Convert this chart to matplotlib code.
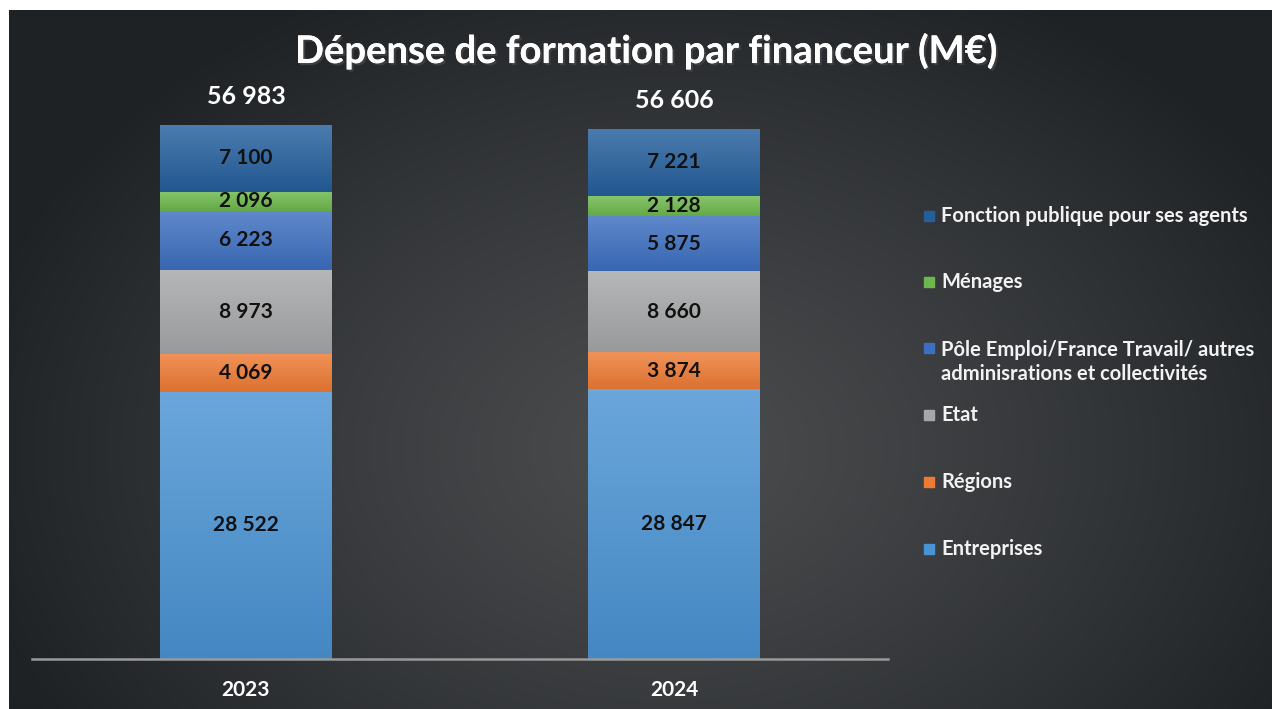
import numpy as np
import matplotlib.pyplot as plt
import matplotlib.patheffects as pe
from matplotlib.colors import to_rgb
from matplotlib.patches import Rectangle

plt.rcParams['font.family'] = ['Lato', 'DejaVu Sans']

# ---- Données (M€) ----
annees = ['2023', '2024']
financeurs = ['Entreprises', 'Régions', 'Etat',
              'Pôle Emploi/France Travail/ autres\nadminisrations et collectivités',
              'Ménages', 'Fonction publique pour ses agents']
entreprises = [28522, 28847]
regions = [4069, 3874]
etat = [8973, 8660]
pole_emploi = [6223, 5875]
menages = [2096, 2128]
fonction_publique = [7100, 7221]
totaux = [56983, 56606]

series = [entreprises, regions, etat, pole_emploi, menages, fonction_publique]
couleurs = ['#4a93d3', '#ee7b34', '#a6a7a8', '#3d6fc0', '#6cb84c', '#245f9c']


def fmt(v):
    return f"{v:,}".replace(",", " ")


def mix(c, other, t):
    c = np.array(to_rgb(c))
    return tuple(c * (1 - t) + np.array(other) * t)


W, H = 1272, 709
fig = plt.figure(figsize=(W / 100, H / 100), dpi=100, facecolor='white')

# ---- Fond dégradé ----
bg = fig.add_axes([9 / W, 0, 1 - 9 / W, 1 - 10 / H])
bg.set_axis_off()
yy, xx = np.mgrid[0:700, 0:1263]
d = np.sqrt(((xx - 660) / 720) ** 2 + ((yy - 440) / 520) ** 2)
d = np.clip(d, 0, 1) ** 1.2
c_centre = np.array([0x4a, 0x4c, 0x4e]) / 255
c_bord = np.array([0x1f, 0x22, 0x25]) / 255
img = c_centre[None, None, :] * (1 - d[..., None]) + c_bord[None, None, :] * d[..., None]
bg.imshow(img, aspect='auto', extent=(0, 1, 0, 1), origin='upper')
bg.set_xlim(0, 1)
bg.set_ylim(0, 1)

# ---- Graphique ----
ax = fig.add_axes([32 / W, 50 / H, (888 - 32) / W, (659 - 100) / H])
ax.set_facecolor('none')
x = np.arange(len(annees))
largeur = 0.40
bas = np.zeros(len(annees))
conteneurs = []
for vals, col in zip(series, couleurs):
    cont = ax.bar(x, vals, largeur, bottom=bas, color=col, zorder=2)
    for rect in cont:
        x0, y0 = rect.get_x(), rect.get_y()
        grad = np.linspace(0, 1, 64)[:, None, None]
        haut = np.array(mix(col, (1, 1, 1), 0.18))
        basc = np.array(mix(col, (0, 0, 0), 0.08))
        g = haut * (1 - grad) + basc * grad
        im = ax.imshow(g, aspect='auto', origin='upper', zorder=3,
                       extent=(x0, x0 + rect.get_width(), y0, y0 + rect.get_height()))
        im.set_clip_path(rect)
    conteneurs.append(cont)
    bas += np.array(vals)

for cont, vals in zip(conteneurs, series):
    ax.bar_label(cont, labels=[fmt(v) for v in vals], label_type='center',
                 fontsize=15, fontweight='bold', color='#111111', zorder=5)

ax.bar_label(conteneurs[-1], labels=[fmt(t) for t in totaux], padding=12,
             fontsize=18, fontweight='bold', color='white')

ax.set_xlim(-0.5, 1.5)
ax.set_ylim(0, 559 / 0.00937)
ax.set_xticks(x)
ax.set_xticklabels(annees, fontsize=15, fontweight='bold', color='white')
ax.tick_params(axis='x', length=0, pad=15)
ax.set_yticks([])
for s in ['top', 'left', 'right']:
    ax.spines[s].set_visible(False)
ax.spines['bottom'].set_color('#9a9a9a')
ax.spines['bottom'].set_linewidth(1.8)
ax.spines['bottom'].set_zorder(6)

# ---- Titre ----
fig.text(647 / W, 1 - 51 / H, 'Dépense de formation par financeur (M€)',
         ha='center', va='center', fontsize=27.5, fontweight='bold', color='white',
         path_effects=[pe.withSimplePatchShadow(offset=(1.5, -1.5), alpha=0.6),
                       pe.Normal()])

# ---- Légende ----
pos_y = [216, 282, 362, 415, 482, 549]
legende = list(zip(financeurs[::-1], couleurs[::-1], pos_y))
for nom, col, py in legende:
    premiere = py - 14 if '\n' in nom else py
    fig.patches.append(Rectangle((924 / W, 1 - (premiere + 5) / H), 10 / W, 10 / H,
                                 transform=fig.transFigure, color=col))
    fig.text(941 / W, 1 - py / H, nom, ha='left', va='center', fontsize=14.5,
             fontweight='bold', color='#f2f2f2', linespacing=1.3)

fig.savefig('out.png', dpi=100, facecolor=fig.get_facecolor())
